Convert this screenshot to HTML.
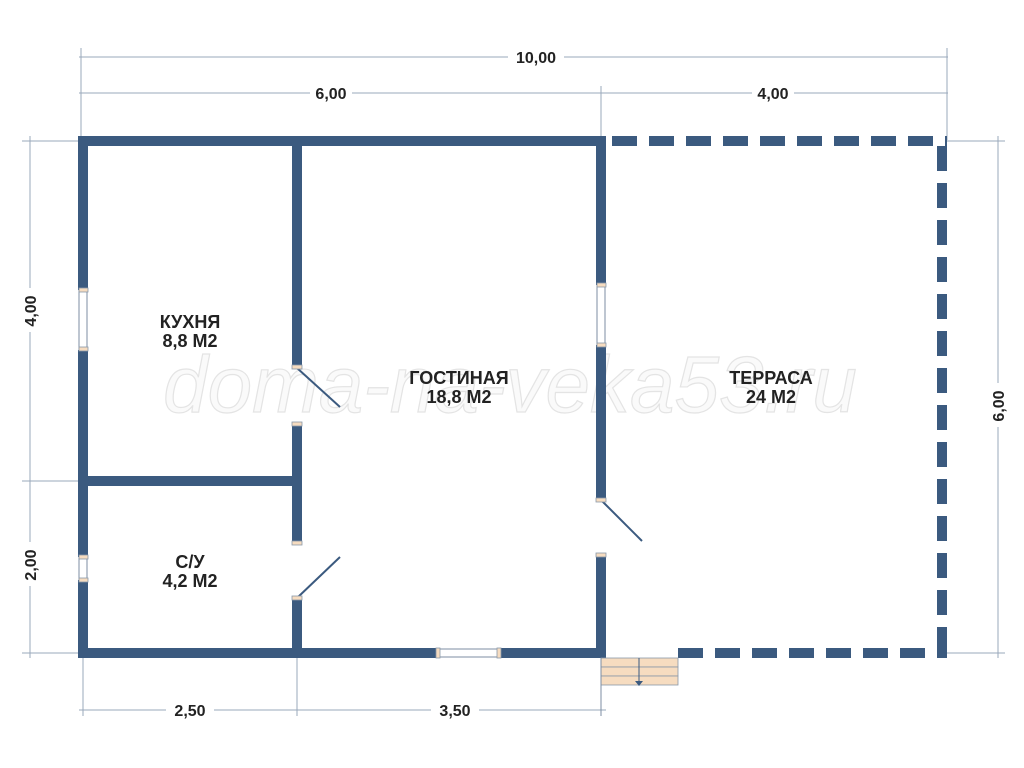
<!DOCTYPE html>
<html><head><meta charset="utf-8"><style>
html,body{margin:0;padding:0;background:#fff;width:1024px;height:768px;overflow:hidden}
svg{display:block}
text{font-family:"Liberation Sans Narrow","Liberation Sans",sans-serif}
</style></head><body>
<svg width="1024" height="768" viewBox="0 0 1024 768" xmlns="http://www.w3.org/2000/svg">
<g stroke="#9aa9bb" stroke-width="1" fill="none">
<line x1="79" y1="57" x2="948" y2="57"/>
<line x1="81" y1="48" x2="81" y2="140"/><line x1="947" y1="48" x2="947" y2="140"/>
<line x1="79" y1="93" x2="948" y2="93"/>
<line x1="601" y1="86" x2="601" y2="140"/>
<line x1="30" y1="136" x2="30" y2="658"/>
<line x1="22" y1="141" x2="80" y2="141"/><line x1="22" y1="481" x2="80" y2="481"/><line x1="22" y1="653" x2="80" y2="653"/>
<line x1="998" y1="136" x2="998" y2="658"/>
<line x1="946" y1="141" x2="1005" y2="141"/><line x1="946" y1="653" x2="1005" y2="653"/>
<line x1="79" y1="710" x2="606" y2="710"/>
<line x1="83" y1="656" x2="83" y2="716"/><line x1="297" y1="656" x2="297" y2="716"/><line x1="601" y1="656" x2="601" y2="716"/>
</g>
<g font-size="16" font-weight="bold" fill="#222" text-anchor="middle">
<rect x="508" y="48" width="56" height="18" fill="#fff"/><text x="536" y="63">10,00</text>
<rect x="310" y="84" width="42" height="18" fill="#fff"/><text x="331" y="99">6,00</text>
<rect x="752" y="84" width="42" height="18" fill="#fff"/><text x="773" y="99">4,00</text>
<rect x="166" y="701" width="48" height="18" fill="#fff"/><text x="190" y="716">2,50</text>
<rect x="431" y="701" width="48" height="18" fill="#fff"/><text x="455" y="716">3,50</text>
<rect x="21" y="288" width="18" height="44" fill="#fff"/><text transform="translate(36,311) rotate(-90)">4,00</text>
<rect x="21" y="542" width="18" height="44" fill="#fff"/><text transform="translate(36,565) rotate(-90)">2,00</text>
<rect x="989" y="383" width="18" height="44" fill="#fff"/><text transform="translate(1004,406) rotate(-90)">6,00</text>
</g>
<text x="510" y="412" font-family="Liberation Serif,serif" font-style="italic" font-size="80" fill="#fafafa" stroke="#e4e4e4" stroke-width="1.2" text-anchor="middle">doma-na-veka53.ru</text>
<g fill="#3b5a7f">
<rect x="78" y="136" width="528" height="10"/>
<rect x="78" y="136" width="10" height="154"/>
<rect x="78" y="350" width="10" height="207"/>
<rect x="78" y="580" width="10" height="78"/>
<rect x="78" y="648" width="360" height="10"/>
<rect x="500" y="648" width="106" height="10"/>
<rect x="88" y="476" width="214" height="10"/>
<rect x="292" y="136" width="10" height="232"/>
<rect x="292" y="424" width="10" height="119"/>
<rect x="292" y="598" width="10" height="55"/>
<rect x="596" y="136" width="10" height="149"/>
<rect x="596" y="345" width="10" height="155"/>
<rect x="596" y="556" width="10" height="102"/>
</g>
<g stroke="#3b5a7f" stroke-width="10" stroke-dasharray="25 12" fill="none">
<line x1="612" y1="141" x2="947" y2="141"/>
<line x1="942" y1="146" x2="942" y2="648"/>
<line x1="678" y1="653" x2="947" y2="653"/>
</g>
<g stroke="#3b5a7f" stroke-width="2">
<line x1="297" y1="368" x2="340" y2="407"/>
<line x1="297" y1="598" x2="340" y2="557"/>
<line x1="601" y1="500" x2="642" y2="541"/>
</g>
<g fill="#fff" stroke="#7c8ea3" stroke-width="1">
<rect x="79" y="290" width="8" height="60"/>
<rect x="79" y="557" width="8" height="23"/>
<rect x="597" y="285" width="8" height="60"/>
<rect x="438" y="649" width="62" height="8"/>
</g>
<g fill="#f6dcc0" stroke="#8a98a8" stroke-width="0.8">
<rect x="79" y="288" width="9" height="4"/><rect x="79" y="347" width="9" height="4"/>
<rect x="79" y="555" width="9" height="4"/><rect x="79" y="578" width="9" height="4"/>
<rect x="597" y="283" width="9" height="4"/><rect x="597" y="343" width="9" height="4"/>
<rect x="436" y="648" width="4" height="10"/><rect x="497" y="648" width="4" height="10"/>
<rect x="292" y="365" width="10" height="4"/><rect x="292" y="422" width="10" height="4"/>
<rect x="292" y="541" width="10" height="4"/><rect x="292" y="596" width="10" height="4"/>
<rect x="596" y="498" width="10" height="4"/><rect x="596" y="553" width="10" height="4"/>
<rect x="601" y="658" width="77" height="9"/><rect x="601" y="667" width="77" height="9"/><rect x="601" y="676" width="77" height="9"/>
</g>
<line x1="639" y1="658" x2="639" y2="683" stroke="#3b5a7f" stroke-width="1"/>
<polygon points="635,681 643,681 639,686" fill="#3b5a7f"/>
<line x1="601" y1="658" x2="601" y2="716" stroke="#7c8ea3" stroke-width="1"/>
<g font-size="18" font-weight="bold" fill="#222" text-anchor="middle">
<text x="190" y="328">КУХНЯ</text><text x="190" y="347">8,8 М2</text>
<text x="190" y="568">С/У</text><text x="190" y="587">4,2 М2</text>
<text x="459" y="384">ГОСТИНАЯ</text><text x="459" y="403">18,8 М2</text>
<text x="771" y="384">ТЕРРАСА</text><text x="771" y="403">24 М2</text>
</g>
</svg>
</body></html>
